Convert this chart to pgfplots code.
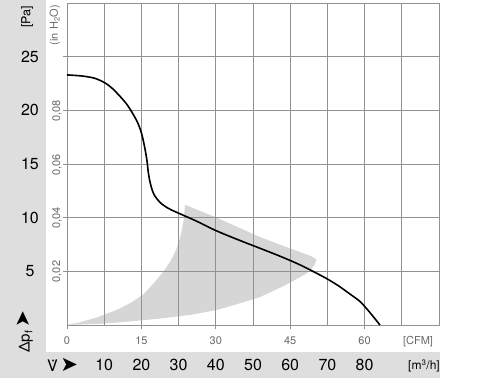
\documentclass[border=0pt]{standalone}
\usepackage{fontspec}
\setmainfont{TeX Gyre Heros}
\newfontfamily\dejavu{DejaVu Sans}
\usepackage{pgfplots}
\pgfplotsset{compat=1.18}
\definecolor{band}{RGB}{222,222,222}
\definecolor{area}{RGB}{214,214,214}
\definecolor{gridc}{RGB}{145,145,145}
\definecolor{lab}{RGB}{105,105,105}
\begin{document}
\begin{tikzpicture}
\begin{axis}[
  set layers,
  scale only axis, width=372pt, height=322pt,
  xmin=0, xmax=75, ymin=0, ymax=30,
  xtick={0,15,30,45,60},
  minor xtick={7.5,22.5,37.5,52.5,67.5},
  ytick={5,10,15,20,25},
  grid=both,
  grid style={gridc, line width=0.7pt},
  minor grid style={gridc, line width=0.7pt},
  axis line style={gridc, line width=0.8pt},
  tick style={gridc, line width=0.7pt},
  tick align=outside, major tick length=4pt, minor tick length=0pt,
  xtick pos=left, ytick pos=left,
  /pgf/number format/assume math mode=true,
  xticklabel style={font=\fontsize{11}{13}\selectfont, text=lab, anchor=center, yshift=-12pt},
  yticklabel style={font=\fontsize{16}{18}\selectfont, text=black, anchor=center, xshift=-33pt},
  clip=false,
]
% page extent (pixel positions converted to axis units)
\path (axis cs:-13.508,-5.311) rectangle (axis cs:87.298,30.28);
% grey frame bands
\addplot[fill=band, draw=none, on layer=axis background] coordinates {
 (-13.508,-4.938) (-4.234,-4.938) (-4.234,30.28) (-13.508,30.28)} -- cycle;
\addplot[fill=band, draw=none, on layer=axis background] coordinates {
 (-13.508,-4.938) (75.2,-4.938) (75.2,-2.516) (-13.508,-2.516)} -- cycle;
% operating range area
\addplot[fill=area, draw=none, on layer=axis background] coordinates {
 (0,0) (3,0.3) (6,0.7) (10,1.4) (13,2.1) (15.5,2.9) (17.5,3.9) (19.3,4.9) (20.8,5.9)
 (22,7.0) (22.9,8.3) (23.5,9.7) (23.8,11.2)
 (27,10.6) (30.2,10.0) (34.5,9.1) (38.9,8.2) (44,7.3) (47,6.8) (49.3,6.4) (50.3,6.1)
 (49.9,5.6) (49.2,5.2) (48.3,4.8)
 (44,3.7) (38.9,2.6) (34,1.9) (30.2,1.4) (25,0.95) (18.75,0.6) (12,0.3) (7,0.12) (0,0)} -- cycle;
% fan curve
\addplot[black, line width=1.6pt, smooth, tension=0.5] coordinates {
 (0,23.3) (3,23.2) (5.5,23.0) (7.5,22.6) (9,22.1) (10.7,21.3) (12,20.6) (13,19.9)
 (14.2,18.9) (15,17.9) (15.6,16.7) (16.1,15.4) (16.4,14.2) (16.8,13.2) (17.5,12.2)
 (18.8,11.4) (20.5,10.85) (22.1,10.5) (26,9.7) (30,8.8) (35,7.85) (38.9,7.15)
 (43,6.4) (47,5.6) (51,4.66) (53,4.15) (55,3.57) (57,2.9) (59.1,2.18) (61,1.2) (63.1,0)};
\node[rotate=90, font=\fontsize{11}{13}\selectfont, text=lab] at (axis cs:-2.016,4.982) {0,02};
\node[rotate=90, font=\fontsize{11}{13}\selectfont, text=lab] at (axis cs:-2.016,9.964) {0,04};
\node[rotate=90, font=\fontsize{11}{13}\selectfont, text=lab] at (axis cs:-2.016,14.945) {0,06};
\node[rotate=90, font=\fontsize{11}{13}\selectfont, text=lab] at (axis cs:-2.016,19.927) {0,08};
\node[font=\fontsize{16}{18}\selectfont] at (axis cs:7.5,-3.727) {10};
\node[font=\fontsize{16}{18}\selectfont] at (axis cs:15,-3.727) {20};
\node[font=\fontsize{16}{18}\selectfont] at (axis cs:22.5,-3.727) {30};
\node[font=\fontsize{16}{18}\selectfont] at (axis cs:30,-3.727) {40};
\node[font=\fontsize{16}{18}\selectfont] at (axis cs:37.5,-3.727) {50};
\node[font=\fontsize{16}{18}\selectfont] at (axis cs:45,-3.727) {60};
\node[font=\fontsize{16}{18}\selectfont] at (axis cs:52.5,-3.727) {70};
\node[font=\fontsize{16}{18}\selectfont] at (axis cs:60,-3.727) {80};
\node[rotate=90, font=\fontsize{12.5}{14}\selectfont] at (axis cs:-8.06,28.70) {[Pa]};
\node[rotate=90, font=\fontsize{11}{13}\selectfont, text=lab] at (axis cs:-2.42,27.95) {(in H\textsubscript{2}O)};
\node[rotate=90, font=\fontsize{15}{17}\selectfont] at (axis cs:-8.47,-0.65) {Δp\textsubscript{f}\,{\dejavu\fontsize{20}{20}\selectfont ➤}};
\node[font=\fontsize{16}{18}\selectfont] at (axis cs:-0.9,-3.727) {\.{V}\,{\dejavu\fontsize{21}{21}\selectfont ➤}};
\node[font=\fontsize{11}{13}\selectfont, text=lab] at (axis cs:70.77,-1.584) {[CFM]};
\node[font=\fontsize{12}{14}\selectfont] at (axis cs:71.98,-3.82) {[m\textsuperscript{3}/h]};
\end{axis}
\end{tikzpicture}
\end{document}
